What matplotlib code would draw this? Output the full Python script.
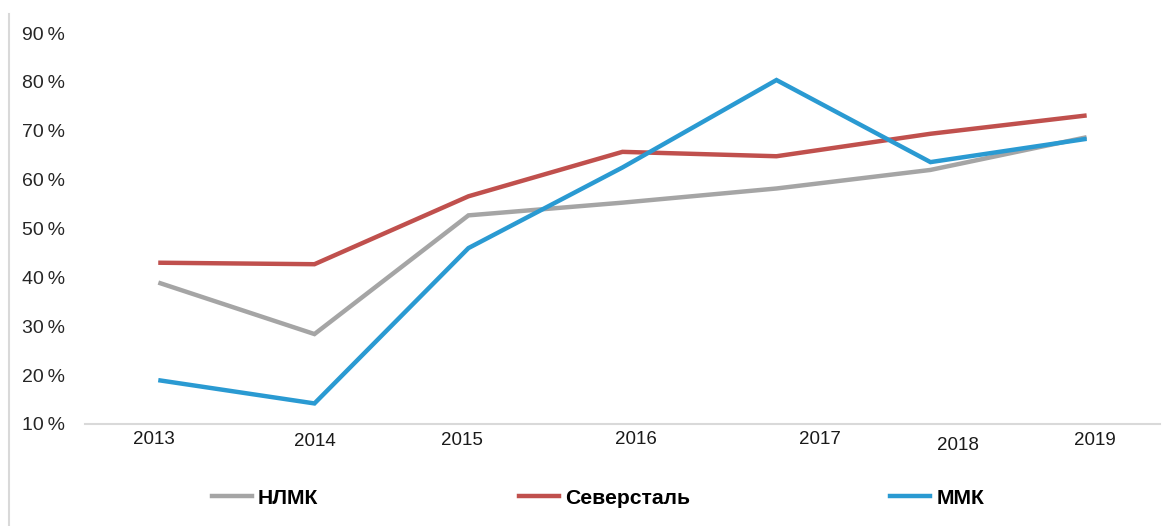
import matplotlib.pyplot as plt
from matplotlib.lines import Line2D

plt.rcParams['font.family'] = ['Liberation Sans', 'DejaVu Sans']

years = ["2013", "2014", "2015", "2016", "2017", "2018", "2019"]
nlmk = [38.8, 28.4, 52.7, 55.3, 58.2, 62.0, 68.6]
severstal = [43.0, 42.7, 56.6, 65.7, 64.8, 69.4, 73.1]
mmk = [18.9, 14.2, 46.0, 62.5, 80.4, 63.6, 68.3]
yticks = [10, 20, 30, 40, 50, 60, 70, 80, 90]

# the year labels in the source sit a bit off their points
label_x = [-0.04, 1.0, 1.96, 3.09, 4.28, 5.18, 6.07]
label_y = [-0.04, -0.045, -0.043, -0.04, -0.04, -0.055, -0.043]


def main():
    fig = plt.figure(figsize=(11.74, 5.26), dpi=100)
    ax = fig.add_axes([0.0724, 0.194, 0.9156, 0.743])

    x = list(range(len(years)))
    ax.plot(x, nlmk, color="#A5A5A5", lw=3.2, label="НЛМК", solid_joinstyle="miter")
    ax.plot(x, severstal, color="#C0504D", lw=3.2, label="Северсталь", solid_joinstyle="miter")
    ax.plot(x, mmk, color="#2A9AD2", lw=3.2, label="ММК", solid_joinstyle="miter")

    ax.set_xlim(-0.49, 6.49)
    ax.set_ylim(10, 90)
    ax.set_yticks(yticks)
    ax.set_yticklabels([f"{v}\u2009%" for v in yticks], fontsize=14, color="#262626")
    ax.set_xticks([])
    for lx, ly, yr in zip(label_x, label_y, years):
        ax.text(lx, ly, yr, transform=ax.get_xaxis_transform(), ha="center", va="center",
                fontsize=13.5, color="#1a1a1a")

    for s in ["top", "right", "left"]:
        ax.spines[s].set_visible(False)
    ax.spines["bottom"].set_color("#D9D9D9")
    ax.spines["bottom"].set_linewidth(1.5)
    ax.tick_params(axis="y", length=0, pad=14.4)

    # thin frame line at the left edge of the picture
    fig.add_artist(Line2D([9 / 1174, 9 / 1174], [0, 1 - 14 / 526], transform=fig.transFigure,
                          color="#D9D9D9", lw=1.5))

    fig.legend(loc="center", bbox_to_anchor=(598 / 1174, 1 - 498 / 526), ncol=3, frameon=False,
               prop={"weight": "bold", "size": 15.2}, handlelength=1.9, handletextpad=0.28,
               columnspacing=9.5)

    fig.savefig("out.png", dpi=100)


if __name__ == "__main__":
    main()
